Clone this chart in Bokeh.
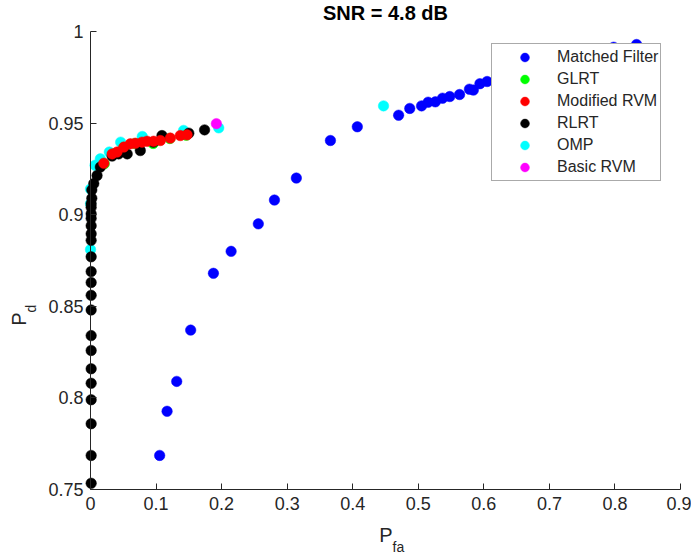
from bokeh.plotting import figure
from bokeh.models import (Range1d, FixedTicker, CustomJSTickFormatter, Label,
                          Legend, LegendItem)
from bokeh.embed import file_html
from bokeh.resources import INLINE

# ROC points (probability of false alarm, probability of detection)
pfa_mf = [0.1055, 0.1168, 0.1315, 0.1528, 0.1875, 0.2145, 0.256, 0.2806, 0.314,
          0.366, 0.407, 0.470, 0.487, 0.505, 0.515, 0.526, 0.537, 0.548, 0.563,
          0.578, 0.584, 0.594, 0.605, 0.798, 0.833]
pd_mf = [0.7686, 0.7927, 0.809, 0.837, 0.868, 0.880, 0.895, 0.908, 0.920,
         0.9405, 0.948, 0.9543, 0.958, 0.9594, 0.9614, 0.9616, 0.9636, 0.9645,
         0.9656, 0.9685, 0.968, 0.9715, 0.9727, 0.9914, 0.9929]

pfa_glrt = [0.021, 0.034, 0.051, 0.068, 0.0956, 0.121, 0.146]
pd_glrt = [0.9278, 0.9330, 0.9367, 0.9388, 0.9389, 0.9416, 0.9434]

pfa_mrvm = [0.0203, 0.033, 0.0405, 0.0508, 0.0608, 0.0684, 0.0786, 0.0862,
            0.0963, 0.1066, 0.1218, 0.137, 0.1473]
pd_mrvm = [0.9281, 0.9332, 0.9342, 0.9369, 0.9387, 0.939, 0.9396, 0.9401,
           0.9401, 0.9405, 0.9418, 0.9432, 0.9436]

pfa_rlrt = [0.001, 0.001, 0.001, 0.001, 0.001, 0.001, 0.001, 0.001, 0.001,
            0.001, 0.001, 0.001, 0.001, 0.001, 0.001, 0.001, 0.001, 0.001,
            0.001, 0.001, 0.002, 0.002, 0.005, 0.010, 0.015, 0.033, 0.043,
            0.056, 0.076, 0.096, 0.109, 0.150, 0.174]
pd_rlrt = [0.7534, 0.7686, 0.7859, 0.799, 0.808, 0.8159, 0.8259, 0.834, 0.848,
           0.856, 0.863, 0.869, 0.877, 0.886, 0.8896, 0.894, 0.898, 0.9005,
           0.904, 0.906, 0.909, 0.9135, 0.917, 0.9214, 0.926, 0.932, 0.9332,
           0.9332, 0.935, 0.9396, 0.9432, 0.9445, 0.9463]

pfa_omp = [0.0, 0.0, 0.0, 0.007, 0.015, 0.0287, 0.046, 0.079, 0.142, 0.1956, 0.447]
pd_omp = [0.881, 0.906, 0.914, 0.927, 0.9305, 0.9342, 0.9396, 0.9427, 0.946,
          0.9474, 0.9594]

pfa_brvm = [0.192]
pd_brvm = [0.9497]

x_ticks = [0, 0.1, 0.2, 0.3, 0.4, 0.5, 0.6, 0.7, 0.8, 0.9]
y_ticks = [0.75, 0.8, 0.85, 0.9, 0.95, 1.0]
x_lim = (0.0, 0.9)
y_lim = (0.75, 1.0)

FONT = "Liberation Sans"
INK = "#262626"
W, H = 691, 558
# axes box inside the canvas, in pixels
LEFT, RIGHT, TOP, BOTTOM = 90, 680, 31, 489

# The frame fills the whole canvas; the axes sit at fixed data positions with
# bounds, so that text outside the axes box stays inside the frame.
sx = (x_lim[1] - x_lim[0]) / (RIGHT - LEFT)
sy = (y_lim[1] - y_lim[0]) / (BOTTOM - TOP)
x_range = Range1d(x_lim[0] - LEFT * sx, x_lim[1] + (W - RIGHT) * sx)
y_range = Range1d(y_lim[0] - (H - BOTTOM) * sy, y_lim[1] + TOP * sy)

p = figure(width=W, height=H, output_backend="svg", toolbar_location=None,
           x_range=x_range, y_range=y_range,
           min_border_left=0, min_border_right=0, min_border_top=0,
           min_border_bottom=0)
p.title.visible = False
p.outline_line_color = None
p.xgrid.visible = False
p.ygrid.visible = False
p.background_fill_color = "white"
p.border_fill_color = "white"

fmt = CustomJSTickFormatter(code="""
    return tick.toFixed(2).replace(/0+$/, '').replace(/\\.$/, '');
""")
p.xaxis.fixed_location = y_lim[0]
p.yaxis.fixed_location = x_lim[0]
p.xaxis.bounds = x_lim
p.yaxis.bounds = y_lim
for ax, ticks, standoff in ((p.xaxis[0], x_ticks, 7), (p.yaxis[0], y_ticks, 7)):
    ax.ticker = FixedTicker(ticks=ticks)
    ax.formatter = fmt
    ax.minor_tick_line_color = None
    ax.major_tick_in = 6
    ax.major_tick_out = 0
    ax.axis_line_color = INK
    ax.major_tick_line_color = INK
    ax.major_label_text_color = INK
    ax.major_label_text_font = FONT
    ax.major_label_text_font_size = "18px"
    ax.major_label_standoff = standoff
    ax.axis_label = None

size = 10.5
series = [
    ("Matched Filter", pfa_mf, pd_mf, "#0000FF"),
    ("OMP", pfa_omp, pd_omp, "#00FFFF"),
    ("GLRT", pfa_glrt, pd_glrt, "#00FF00"),
    ("RLRT", pfa_rlrt, pd_rlrt, "#000000"),
    ("Modified RVM", pfa_mrvm, pd_mrvm, "#FF0000"),
    ("Basic RVM", pfa_brvm, pd_brvm, "#FF00FF"),
]
renderers = {}
for name, xs, ys, color in series:
    renderers[name] = p.scatter(xs, ys, size=size, fill_color=color,
                                line_color=color, line_width=0.5)

legend_order = ["Matched Filter", "GLRT", "Modified RVM", "RLRT", "OMP", "Basic RVM"]
legend = Legend(items=[LegendItem(label=n, renderers=[renderers[n]]) for n in legend_order],
                location=(491, 377), orientation="vertical",
                glyph_width=61, glyph_height=22, spacing=0, padding=2,
                margin=0, label_standoff=2,
                label_text_font=FONT, label_text_font_size="16px",
                label_text_color=INK, label_height=20,
                border_line_color="#555555", border_line_width=1,
                background_fill_color="white", background_fill_alpha=1.0)
p.add_layout(legend, "center")

# title and axis labels (with subscripts); offsets are pixels from a data anchor
def text_label(x, y, dx, dy, text, size, align="center", bold=False, angle=0.0):
    return Label(x=x, y=y, x_offset=dx, y_offset=dy, text=text,
                 text_font=FONT, text_font_size=size,
                 text_color="black" if bold else INK,
                 text_font_style="bold" if bold else "normal",
                 text_align=align, text_baseline="middle", angle=angle)

x_mid = (x_lim[0] + x_lim[1]) / 2
y_mid = (y_lim[0] + y_lim[1]) / 2
p.add_layout(text_label(x_mid, y_lim[1], 0, 19, "SNR = 4.8 dB", "20px", bold=True))
p.add_layout(text_label(x_mid, y_lim[0], 7, -45, "P", "20px", align="right"))
p.add_layout(text_label(x_mid, y_lim[0], 7, -57, "fa", "14px", align="left"))
p.add_layout(text_label(x_lim[0], y_mid, -72, -52, "P", "20px", align="right", angle=1.5708))
p.add_layout(text_label(x_lim[0], y_mid, -60, -52, "d", "14px", align="left", angle=1.5708))

open("out.html", "w").write(file_html(p, INLINE))
